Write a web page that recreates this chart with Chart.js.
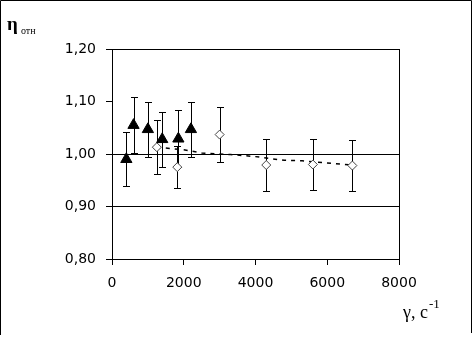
<!DOCTYPE html>
<html>
<head>
<meta charset="utf-8">
<script src="https://cdn.jsdelivr.net/npm/chart.js@4/dist/chart.umd.min.js"></script>
<style>
    body { margin: 0; background: #fff; }
    canvas { display: block; }
</style>
</head>
<body>
<canvas id="chart" width="474" height="338"></canvas>
<script>
// triangles (filled)
const triX = [400, 600, 1000, 1400, 1850, 2200];
const triY = [0.99, 1.055, 1.047, 1.028, 1.029, 1.047];
const triErr = [0.051, 0.053, 0.053, 0.052, 0.054, 0.053];

// diamonds (open)
const diaX = [1250, 1820, 3000, 4300, 5600, 6700];
const diaY = [1.013, 0.975, 1.037, 0.979, 0.98, 0.978];
const diaErr = [0.052, 0.04, 0.052, 0.049, 0.049, 0.049];

// dashed trend line
const trendX = [1250, 2000, 2500, 3300, 4000, 4800, 5300, 6000, 6700];
const trendY = [1.013, 1.008, 1.002, 0.999, 0.995, 0.988, 0.987, 0.983, 0.979];

const xTicks = [0, 2000, 4000, 6000, 8000];
const yTicks = [0.8, 0.9, 1.0, 1.1, 1.2];

function toPoints(xs, ys) {
    return xs.map((x, i) => ({x: x, y: ys[i]}));
}

const errorBars = {
    id: 'errorBars',
    beforeDatasetsDraw(chart) {
        const ctx = chart.ctx;
        const yScale = chart.scales.y;
        ctx.save();
        ctx.strokeStyle = '#000';
        ctx.lineWidth = 1;
        chart.data.datasets.forEach((ds, di) => {
            if (!ds.errors) return;
            const meta = chart.getDatasetMeta(di);
            meta.data.forEach((pt, i) => {
                const v = ds.data[i].y;
                const x = Math.round(pt.x) + 0.5;
                const top = Math.round(yScale.getPixelForValue(v + ds.errors[i])) + 0.5;
                const bot = Math.round(yScale.getPixelForValue(v - ds.errors[i])) + 0.5;
                ctx.beginPath();
                ctx.moveTo(x, top);
                ctx.lineTo(x, bot);
                ctx.moveTo(x - 3.5, top);
                ctx.lineTo(x + 3.5, top);
                ctx.moveTo(x - 3.5, bot);
                ctx.lineTo(x + 3.5, bot);
                ctx.stroke();
            });
        });
        ctx.restore();
    }
};

const labels = {
    id: 'labels',
    afterDraw(chart) {
        const ctx = chart.ctx;
        ctx.save();
        ctx.fillStyle = '#000';
        ctx.textBaseline = 'alphabetic';
        ctx.font = 'bold 19px "Liberation Serif"';
        ctx.fillText('η', 7, 30);
        ctx.font = '10px "Liberation Serif"';
        ctx.fillText('отн', 21, 34);

        ctx.font = '18px "Liberation Serif"';
        ctx.fillText('γ, с', 403, 318);
        const w = ctx.measureText('γ, с').width;
        ctx.font = '13px "Liberation Serif"';
        ctx.fillText('-1', 403 + w + 1, 308);

        // outer frame
        ctx.strokeStyle = '#000';
        ctx.lineWidth = 1;
        ctx.beginPath();
        ctx.moveTo(0.5, 335);
        ctx.lineTo(0.5, 0.5);
        ctx.lineTo(471.5, 0.5);
        ctx.lineTo(471.5, 333);
        ctx.stroke();
        ctx.restore();
    }
};

const tickFont = {family: '"DejaVu Sans"', size: 14};

new Chart(document.getElementById('chart'), {
    type: 'scatter',
    data: {
        datasets: [
            {
                label: 'triangles',
                data: toPoints(triX, triY),
                errors: triErr,
                pointStyle: 'triangle',
                pointRadius: 6.5,
                pointBackgroundColor: '#000',
                pointBorderColor: '#000',
                pointBorderWidth: 1,
                order: 1
            },
            {
                label: 'diamonds',
                data: toPoints(diaX, diaY),
                errors: diaErr,
                pointStyle: 'rectRot',
                pointRadius: 4.5,
                pointBackgroundColor: '#fff',
                pointBorderColor: '#444',
                pointBorderWidth: 1,
                order: 2
            },
            {
                label: 'trend',
                data: toPoints(trendX, trendY),
                showLine: true,
                borderColor: '#000',
                borderWidth: 1.5,
                borderDash: [4, 5],
                pointRadius: 0,
                order: 3
            }
        ]
    },
    options: {
        responsive: false,
        animation: false,
        events: [],
        layout: {padding: {left: 0, right: 75, top: 49, bottom: 39}},
        plugins: {legend: {display: false}, tooltip: {enabled: false}},
        scales: {
            x: {
                type: 'linear',
                min: 0,
                max: 8000,
                afterBuildTicks: s => { s.ticks = xTicks.map(v => ({value: v})); },
                afterFit: s => { s.height = 40; },
                ticks: {color: '#000', font: tickFont, padding: 10, callback: v => String(v)},
                grid: {
                    color: c => (c.tick && c.tick.value === 8000) ? '#000' : 'rgba(0,0,0,0)',
                    tickColor: '#000',
                    tickLength: 6,
                    lineWidth: 1
                },
                border: {color: '#000', width: 1}
            },
            y: {
                min: 0.8,
                max: 1.2,
                afterBuildTicks: s => { s.ticks = yTicks.map(v => ({value: v})); },
                afterFit: s => { s.width = 112; },
                ticks: {
                    color: '#000',
                    font: tickFont,
                    padding: 10,
                    callback: v => v.toFixed(2).replace('.', ',')
                },
                grid: {
                    color: c => (c.tick && Math.abs(c.tick.value - 1.1) < 1e-6) ? 'rgba(0,0,0,0)' : '#000',
                    tickColor: '#000',
                    tickLength: 6,
                    lineWidth: 1
                },
                border: {color: '#000', width: 1}
            }
        }
    },
    plugins: [errorBars, labels]
});
</script>
</body>
</html>
